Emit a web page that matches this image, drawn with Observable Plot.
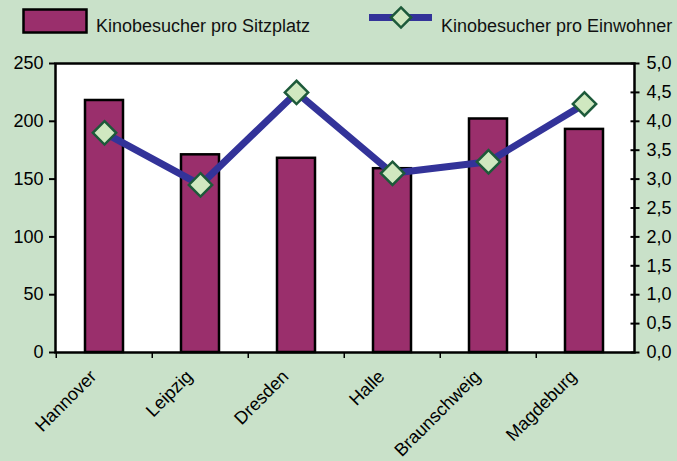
<!DOCTYPE html>
<html>
<head>
<meta charset="utf-8">
<script src="https://cdn.jsdelivr.net/npm/d3@7"></script>
<script src="https://cdn.jsdelivr.net/npm/@observablehq/plot@0.6"></script>
<style>
  html, body { margin: 0; padding: 0; background: #c9e1c9; }
  body { width: 677px; height: 461px; overflow: hidden; font-family: "Liberation Sans", Arial, sans-serif; }
  #legend svg, #chart svg { display: block; }
</style>
</head>
<body>
<div id="legend"></div>
<div id="chart"></div>
<script>
// ---- data ----
const cities = ["Hannover", "Leipzig", "Dresden", "Halle", "Braunschweig", "Magdeburg"];
const perSeat = [218, 171, 168, 159, 202, 193];          // Kinobesucher pro Sitzplatz (left axis)
const perResident = [3.8, 2.9, 4.5, 3.1, 3.3, 4.3];      // Kinobesucher pro Einwohner (right axis)
const leftTicks = [0, 50, 100, 150, 200, 250];
const rightTicks = [0, 0.5, 1, 1.5, 2, 2.5, 3, 3.5, 4, 4.5, 5];
const seriesNames = ["Kinobesucher pro Sitzplatz", "Kinobesucher pro Einwohner"];
const leftMax = 250, rightMax = 5;
const ratio = leftMax / rightMax;

// ---- style ----
const barFill = "#9a2f6c";
const lineColor = "#333399";
const diamondFill = "#d0e8c0";
const diamondStroke = "#1d5a3a";
const FONT = "Liberation Sans, Arial, sans-serif";

const rows = cities.map((c, i) => ({city: c, seat: perSeat[i], res: perResident[i]}));

// ---- legend ----
const W = 677, legendH = 45;
const lg = d3.select("#legend").append("svg").attr("width", W).attr("height", legendH)
  .style("font-family", FONT).style("font-size", "18px");
lg.append("rect").attr("x", 23.5).attr("y", 9.5).attr("width", 63).attr("height", 23)
  .attr("fill", barFill).attr("stroke", "black").attr("stroke-width", 2.5);
lg.append("text").attr("x", 96).attr("y", 32).attr("fill", "#111").text(seriesNames[0]);
lg.append("line").attr("x1", 369).attr("x2", 432).attr("y1", 17.5).attr("y2", 17.5)
  .attr("stroke", lineColor).attr("stroke-width", 7);
lg.append("path").attr("transform", "translate(401,17.5)")
  .attr("d", d3.symbol(d3.symbolDiamond2, 260)())
  .attr("fill", diamondFill).attr("stroke", diamondStroke).attr("stroke-width", 2.5);
lg.append("text").attr("x", 441).attr("y", 32).attr("fill", "#111").text(seriesNames[1]);

// ---- chart ----
const mL = 55, mR = 43, mT = 18, mB = 109, H = 461 - legendH;
const step = (W - mL - mR) / cities.length;

const chart = Plot.plot({
  width: W,
  height: H,
  marginLeft: mL,
  marginRight: mR,
  marginTop: mT,
  marginBottom: mB,
  style: {background: "transparent", color: "black", fontFamily: FONT, fontSize: "18px"},
  x: {type: "band", domain: cities, paddingInner: 0.6, paddingOuter: 0.3, label: null},
  y: {domain: [0, leftMax], label: null},
  marks: [
    Plot.frame({fill: "white", stroke: "none"}),
    Plot.barY(rows, {x: "city", y: "seat", fill: barFill, stroke: "black", strokeWidth: 2.5}),
    Plot.frame({stroke: "black", strokeWidth: 2.5}),
    Plot.axisY({anchor: "left", ticks: leftTicks, tickSize: 6, tickPadding: 6, strokeWidth: 2, label: null}),
    Plot.axisY({anchor: "right", ticks: rightTicks.map(t => t * ratio), tickSize: 9, dx: -4.5, strokeWidth: 2, fill: "none", label: null}),
    Plot.axisY({anchor: "right", ticks: rightTicks.map(t => t * ratio), tickSize: 0, tickPadding: 12, stroke: "none", label: null,
      tickFormat: d => (d / ratio).toFixed(1).replace(".", ",")}),
    Plot.axisX({anchor: "bottom", tickSize: 6, dx: -step / 2, strokeWidth: 1.5, fill: "none", label: null}),
    Plot.axisX({anchor: "bottom", tickSize: 0, tickPadding: 21, dx: -11, tickRotate: -45, stroke: "none", label: null}),
    Plot.line(rows, {x: "city", y: d => d.res * ratio, stroke: lineColor, strokeWidth: 7}),
    Plot.dot(rows, {x: "city", y: d => d.res * ratio, symbol: "diamond2", r: 10.5,
      fill: diamondFill, stroke: diamondStroke, strokeWidth: 2.5})
  ]
});
document.getElementById("chart").appendChild(chart);
</script>
</body>
</html>
